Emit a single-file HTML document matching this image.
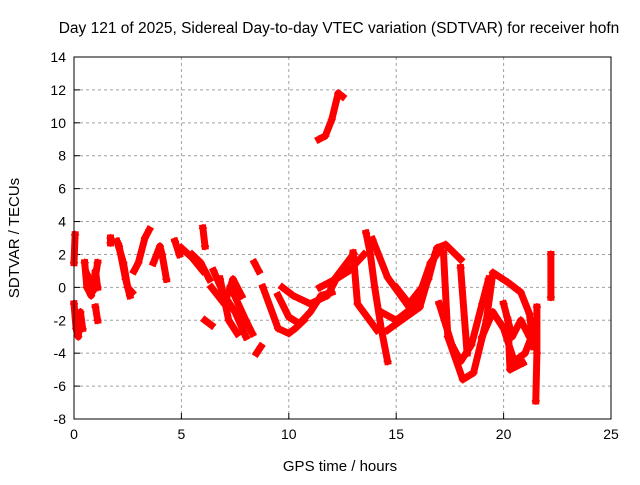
<!DOCTYPE html>
<html><head><meta charset="utf-8"><style>
body{margin:0;background:#fff}
svg text{font-family:"Liberation Sans",sans-serif;fill:#000}
</style></head><body>
<svg width="640" height="480" viewBox="0 0 640 480">
<rect width="640" height="480" fill="#fff"/>
<text x="339" y="33" font-size="15.5" text-anchor="middle">Day 121 of 2025, Sidereal Day-to-day VTEC variation (SDTVAR) for receiver hofn</text>
<g id="grid"></g>
<g id="axes"></g>
<g id="series"></g>
<rect x="74" y="57" width="537" height="362" fill="none" stroke="#000" stroke-width="1"/>
<text x="340" y="471" font-size="15" text-anchor="middle">GPS time / hours</text>
<text transform="translate(19,238) rotate(-90)" font-size="15" text-anchor="middle">SDTVAR / TECUs</text>
</svg>
<script>
const xTicks=[0,5,10,15,20,25];
const yTicks=[-8,-6,-4,-2,0,2,4,6,8,10,12,14];
const tracks=[
[[11.4,9.0],[11.7,9.2],[12.0,10.2],[12.3,11.8],[12.5,11.6]],
[[0.0,-1.0],[0.1,-2.5],[0.2,-3.0],[0.3,-1.5],[0.4,-2.5]],
[[0.0,1.5],[0.05,3.2]],
[[0.5,1.5],[0.6,0.0],[0.8,-0.5],[1.0,1.0],[1.1,0.0]],
[[0.6,0.8],[0.9,-0.2],[1.1,1.5]],
[[1.0,-1.2],[1.1,-2.0]],
[[1.7,3.0],[1.7,2.7]],
[[2.0,2.8],[2.3,1.5],[2.5,0.0],[2.7,-0.3]],
[[2.1,2.5],[2.4,0.5],[2.6,-0.5]],
[[2.8,1.0],[3.0,1.5],[3.3,3.0],[3.5,3.5]],
[[3.7,1.5],[4.0,2.5],[4.1,2.0],[4.3,0.5]],
[[4.7,2.8],[4.9,2.0]],
[[5.0,2.4],[5.5,1.8],[6.0,1.0]],
[[5.5,2.0],[5.9,1.5],[6.3,0.5]],
[[6.0,3.6],[6.1,2.5]],
[[6.5,1.0],[7.0,-0.5],[7.5,-1.5],[8.0,-3.0]],
[[6.8,0.5],[7.2,-2.0],[7.6,-2.8]],
[[6.4,0.0],[7.0,-1.0],[7.4,0.5],[7.8,-0.5]],
[[6.1,-2.0],[6.4,-2.3]],
[[7.3,0.0],[8.0,-2.0],[8.3,-2.8]],
[[8.4,1.5],[8.6,1.0]],
[[8.5,-4.0],[8.7,-3.6]],
[[8.8,0.0],[9.5,-2.5],[10.0,-2.8],[10.3,-2.5],[10.7,-2.0]],
[[9.5,-0.5],[10.0,-1.8],[10.5,-2.2],[11.0,-1.5],[11.5,-0.5],[12.0,-0.3]],
[[9.7,0.0],[10.2,-0.5],[11.0,-1.0],[11.8,-0.5],[12.2,0.5],[12.8,1.0],[13.5,2.0]],
[[11.45,0.0],[12.1,0.45],[13.0,2.0]],
[[13.6,3.3],[13.8,2.0],[14.0,0.0],[14.3,-2.5],[14.6,-4.5]],
[[13.9,2.9],[14.6,0.6],[15.6,-1.2]],
[[14.6,-2.6],[16.1,-1.2],[16.9,2.4],[17.3,2.6],[18.0,1.7]],
[[13.0,2.1],[13.2,-1.0],[14.1,-2.6]],
[[14.3,-1.5],[15.0,-2.0],[15.5,-1.5],[16.0,-1.0],[16.5,0.5],[16.8,2.0]],
[[15.0,0.0],[15.6,-1.0],[16.2,0.0],[16.6,1.5],[17.0,2.2]],
[[17.2,2.1],[17.4,-3.0],[18.1,-5.6],[18.6,-5.2],[19.2,-2.0],[19.5,0.9],[20.2,0.3],[20.8,-0.3],[21.2,-1.6],[21.4,-3.6]],
[[20.2,-2.0],[20.3,-5.0],[20.9,-4.6]],
[[18.0,1.2],[18.3,-4.0]],
[[17.0,-1.0],[17.6,-3.5],[18.0,-4.5],[18.5,-3.5],[19.0,-1.0],[19.3,0.5]],
[[19.0,-3.0],[19.5,-1.5],[20.0,-2.5],[20.5,-4.5],[21.0,-4.0],[21.3,-3.0]],
[[20.0,-1.0],[20.4,-3.0],[20.8,-2.0],[21.2,-3.0]],
[[21.55,-1.2],[21.55,-4.0],[21.5,-6.9]],
[[22.2,2.0],[22.2,-0.6]]
];
const X0=74,X1=611,Y0=419,Y1=57;
const xs=v=>X0+(v-0)/(25-0)*(X1-X0);
const ys=v=>Y0-(v+8)/(22)*(Y0-Y1);
const NS="http://www.w3.org/2000/svg";
const grid=document.getElementById('grid'),axes=document.getElementById('axes'),ser=document.getElementById('series');
function mk(tag,attrs,parent){const e=document.createElementNS(NS,tag);for(const k in attrs)e.setAttribute(k,attrs[k]);parent.appendChild(e);return e;}
xTicks.forEach(t=>{const x=xs(t);
 if(t>0&&t<25){const g=mk('line',{x1:x,x2:x,y1:Y1,y2:Y0,stroke:'#a0a0a0','stroke-dasharray':'3,3'},grid);
 
 }
 const tk=mk('line',{x1:x,x2:x,y1:Y0,y2:Y0-6,stroke:'#000'},axes);
 
 
 const tx=mk('text',{x:x,y:Y0+20,'font-size':14,'text-anchor':'middle'},axes);tx.textContent=t;
 
 
});
yTicks.forEach(t=>{const y=ys(t);
 if(t>-8&&t<14){const g=mk('line',{x1:X0,x2:X1,y1:y,y2:y,stroke:'#a0a0a0','stroke-dasharray':'3,3'},grid);
 
 }
 const tk=mk('line',{x1:X0,x2:X0+6,y1:y,y2:y,stroke:'#000'},axes);
 
 
 const tx=mk('text',{x:X0-8,y:y+5,'font-size':14,'text-anchor':'end'},axes);tx.textContent=t;
 
 
});
tracks.forEach(tr=>{
 const pts=tr.map(p=>xs(p[0]).toFixed(1)+','+ys(p[1]).toFixed(1)).join(' ');
 const pl=mk('polyline',{points:pts,fill:'none',stroke:'#f00','stroke-width':7,'stroke-linejoin':'round','stroke-linecap':'square'},ser);
 
 
 tr.forEach(p=>{const x=xs(p[0]),y=ys(p[1]);
  const m=mk('path',{d:`M${x-4},${y}h8M${x},${y-4}v8`,stroke:'#f00','stroke-width':1.5},ser);
  
  
 });
});
</script>
</body></html>
